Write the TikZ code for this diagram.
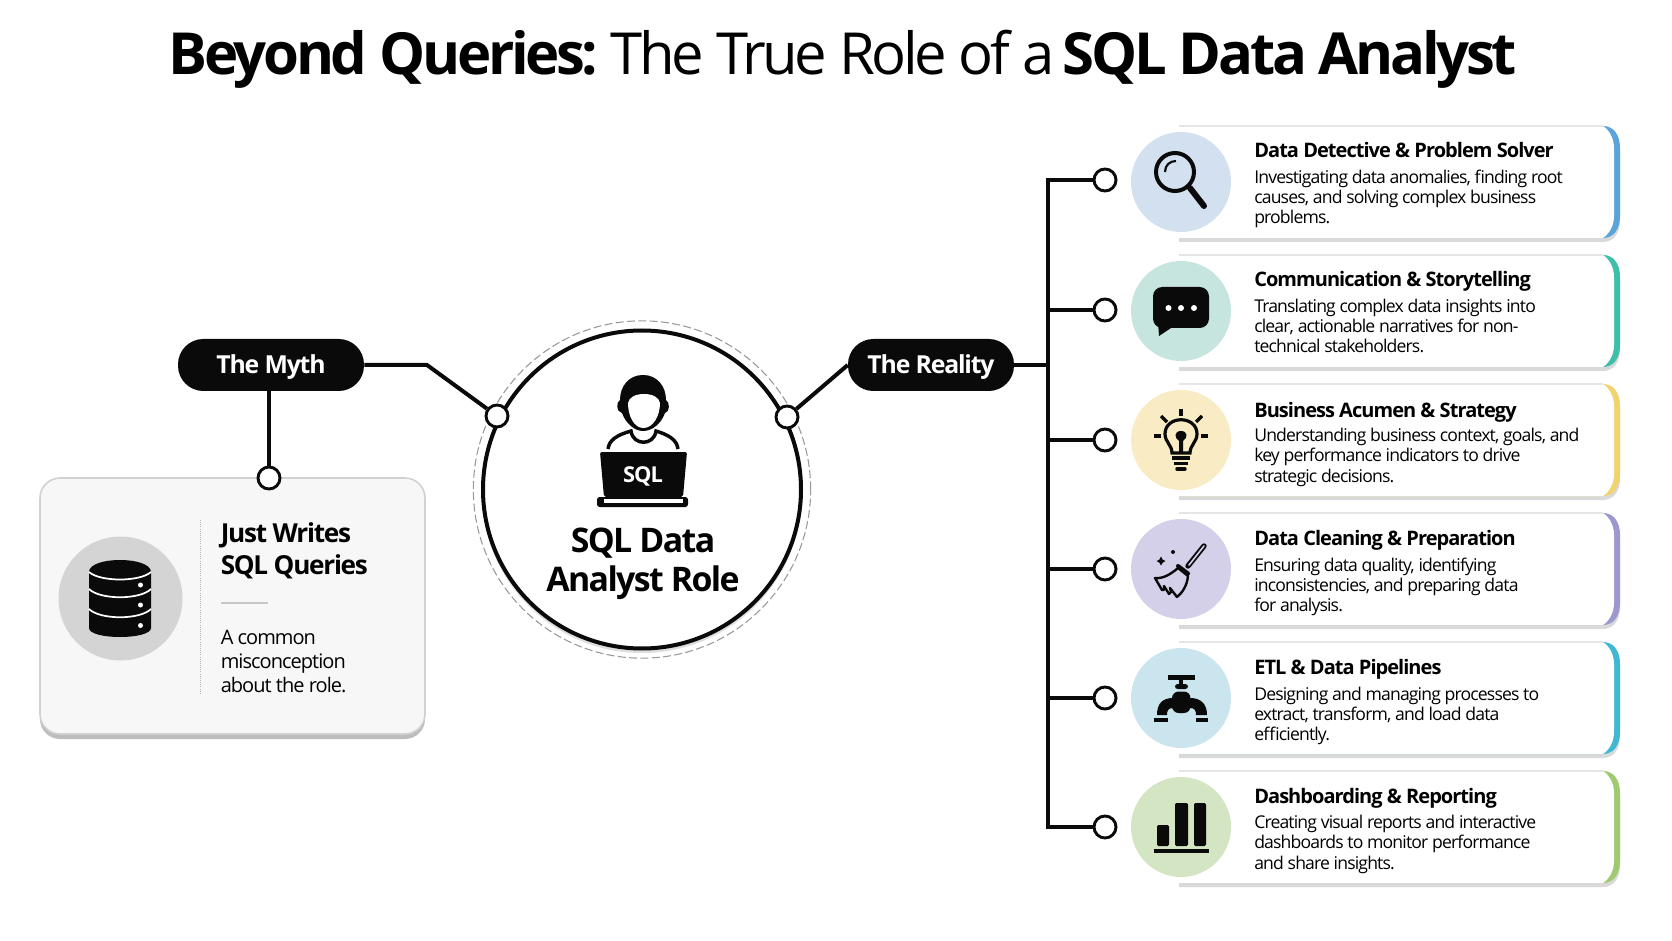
\documentclass[tikz,border=0pt]{standalone}
\usepackage{fontspec}
\setmainfont{Open Sans}
\newfontfamily\headfont[LetterSpace=-5.7]{Open Sans}
\newfontfamily\tightfont[LetterSpace=-4.8]{Open Sans}

\definecolor{inkblack}{HTML}{0A0A0A}
\definecolor{softblue}{HTML}{D3E0F0}
\definecolor{softteal}{HTML}{C7E5DF}
\definecolor{softyellow}{HTML}{F9EBC3}
\definecolor{softpurple}{HTML}{D5D0EA}
\definecolor{softcyan}{HTML}{CBE5EE}
\definecolor{softgreen}{HTML}{D3E5C2}
\definecolor{edgeblue}{HTML}{5BA4DB}
\definecolor{edgeteal}{HTML}{3DBFAA}
\definecolor{edgeyellow}{HTML}{F2D46F}
\definecolor{edgepurple}{HTML}{9C97CE}
\definecolor{edgecyan}{HTML}{3FB8D4}
\definecolor{edgegreen}{HTML}{A0CA72}

\tikzset{
  link/.style={draw=inkblack, line width=3pt},
  port/.style={draw=inkblack, circle, fill=white, line width=2.2pt, minimum size=16.5pt, inner sep=0pt},
  pill/.style={fill=inkblack, text=white, rounded corners=19pt, minimum height=39pt, inner sep=0pt, text height=13.5pt, text depth=0pt, font=\tightfont\bfseries\fontsize{18.6}{22}\selectfont},
  iconball/.style={circle, minimum size=75pt, inner sep=0pt},
  headline/.style={anchor=base west, inner sep=0pt, font=\tightfont\bfseries\fontsize{15}{18}\selectfont},
  bodytext/.style={anchor=north west, inner sep=0pt, align=left, execute at begin node=\rule{0pt}{10pt}, font=\tightfont\fontsize{13.2}{15.2}\selectfont},
  pics/cardpanel/.style={code={
    \fill[black!15] (0,4) -- (424,4) .. controls (434,4) and (441,12) .. (441,26) -- (441,94) .. controls (441,108) and (434,116) .. (424,116) -- (0,116) -- cycle;
    \fill[#1] (0,0) -- (424,0) .. controls (434,0) and (441,8) .. (441,22) -- (441,90) .. controls (441,104) and (434,112) .. (424,112) -- (0,112) -- cycle;
    \fill[white] (0,0) -- (424,0) .. controls (430,4) and (435,12) .. (435,22) -- (435,90) .. controls (435,100) and (430,108) .. (424,112) -- (0,112) -- cycle;
    \draw[black!10, line width=1pt] (0,0) -- (424,0);
  }}
}

\begin{document}
\begin{tikzpicture}[x=0.75pt, y=-0.75pt]
  \useasboundingbox (0,0) rectangle (1672,941);
  \fill[white] (0,0) rectangle (1672,941);

  % title
  \node[anchor=base, inner sep=0pt, font=\headfont\fontsize{43.5}{50}\selectfont] (title) at (841,75)
    {\textbf{Beyond Queries:} The True Role of a \textbf{SQL Data Analyst}};

  % centre
  \node[circle, draw=black!40, dash pattern=on 6pt off 2.5pt, line width=0.8pt, minimum size=253pt, inner sep=0pt] (halo) at (642,489.5) {};
  \node[circle, fill=black!13, minimum size=240pt, inner sep=0pt] (roleshade) at (642,493) {};
  \node[circle, draw=inkblack, fill=white, line width=3pt, minimum size=238.5pt, inner sep=0pt] (role) at (642,489.5) {};
  \node[anchor=base, inner sep=0pt, font=\tightfont\bfseries\fontsize{25.4}{29}\selectfont] (rolea) at (643,552) {SQL Data};
  \node[anchor=base, inner sep=0pt, font=\tightfont\bfseries\fontsize{25.4}{29}\selectfont] (roleb) at (643,591) {Analyst Role};

  % person at laptop
  \fill[inkblack] (643,375) .. controls (629,375) and (620,386) .. (620,400) .. controls (616,402) and (616,412) .. (622,413) .. controls (626,424) and (635,431) .. (643,431) .. controls (652,431) and (661,424) .. (665,413) .. controls (670,412) and (670,402) .. (666,400) .. controls (666,386) and (657,375) .. (643,375) -- cycle;
  \fill[white] (628,403) .. controls (629,397) and (636,394) .. (644,394) .. controls (652,394) and (659,397) .. (660,403) .. controls (660,416) and (653,428) .. (643.5,428) .. controls (634,428) and (628,416) .. (628,403) -- cycle;
  \draw[inkblack, line width=2.6pt] (608,449) .. controls (609,440) and (617,435) .. (631,431) .. controls (633,446) and (654,446) .. (656,431) .. controls (669,435) and (677,440) .. (678,449);
  \fill[inkblack, rounded corners=1.5pt] (600,452) -- (687,452) -- (683,497) -- (604,497) -- cycle;
  \fill[inkblack, rounded corners=2pt] (597,497) -- (688,497) -- (688,507) -- (597,507) -- cycle;
  \fill[white] (604,498.5) -- (683,498.5) -- (683,502.5) -- (604,502.5) -- cycle;
  \node[text=white, inner sep=0pt, font=\tightfont\bfseries\fontsize{16.4}{18}\selectfont] (sqltag) at (643,476) {SQL};

  % the myth
  \node[pill, minimum width=139.5pt] (myth) at (271,365) {The Myth};
  \node[fill=black!26, rounded corners=15pt, minimum width=288.75pt, minimum height=192pt] (mythshade) at (232.5,611) {};
  \node[draw=black!18, fill=black!3, line width=1.2pt, rounded corners=15pt, minimum width=288.75pt, minimum height=192pt] (mythcard) at (232.5,606) {};
  \node[port] (mythport) at (269,478) {};
  \node[port] (roleleft) at (497,416) {};
  \coordinate (mythbend) at (427,365);
  \draw[link] (myth) -- (mythbend) -- (roleleft);
  \draw[link] (myth.south -| mythport) -- (mythport);
  \node[circle, fill=black!17, minimum size=93pt, inner sep=0pt] (dbball) at (120.5,598.5) {};
  \draw[black!30, densely dotted, line width=0.6pt] (200,520) -- (200,693);
  \draw[black!22, line width=1pt] (221,603) -- (268,603);
  \node[headline, font=\tightfont\bfseries\fontsize{19.6}{24}\selectfont] (mythtitlea) at (220.5,542) {Just Writes};
  \node[headline, font=\tightfont\bfseries\fontsize{19.6}{24}\selectfont] (mythtitleb) at (220.5,574) {SQL Queries};
  \node[bodytext, font=\tightfont\fontsize{15}{18}\selectfont] (mythbody) at (220.5,629.7) {A common\\misconception\\about the role.};

  % database icon
  \fill[inkblack] (89,572) .. controls (89,556) and (151,556) .. (151,572) -- (151,628) .. controls (151,640) and (89,640) .. (89,628) -- cycle;
  \draw[white, line width=1.3pt] (89,572) .. controls (100,582) and (140,582) .. (151,572);
  \draw[white, line width=1.3pt] (89,589) .. controls (100,600) and (140,600) .. (151,589);
  \draw[white, line width=1.3pt] (89,609) .. controls (100,620) and (140,620) .. (151,609);
  \fill[white] (140.5,585) circle (2.5);
  \fill[white] (140.5,605) circle (2.5);
  \fill[white] (140.5,625.5) circle (2.5);

  % the reality
  \node[pill, minimum width=124.5pt] (reality) at (931,365) {The Reality};
  \node[port] (roleright) at (787,417) {};
  \draw[link] (roleright) -- (reality.west);
  \coordinate (trunktop) at (1047.5,180);
  \coordinate (trunkbot) at (1047.5,827);
  \coordinate (trunkmid) at (1047.5,365);
  \draw[link] (reality) -- (trunkmid);

  % cards
  \pic at (1179,126) {cardpanel=edgeblue};
  \pic at (1179,255) {cardpanel=edgeteal};
  \pic at (1179,384) {cardpanel=edgeyellow};
  \pic at (1179,513) {cardpanel=edgepurple};
  \pic at (1179,642) {cardpanel=edgecyan};
  \pic at (1179,771) {cardpanel=edgegreen};

  \node[port] (porta) at (1105,180) {};
  \node[port] (portb) at (1105,310) {};
  \node[port] (portc) at (1105,440) {};
  \node[port] (portd) at (1105,569) {};
  \node[port] (porte) at (1105,698) {};
  \node[port] (portf) at (1105,827) {};
  \draw[link] (porta) -- (trunktop) -- (trunkbot) -- (portf);
  \draw[link] (portb) -- (portb -| trunkmid);
  \draw[link] (portc) -- (portc -| trunkmid);
  \draw[link] (portd) -- (portd -| trunkmid);
  \draw[link] (porte) -- (porte -| trunkmid);

  \node[iconball, fill=softblue] (balla) at (1181,182) {};
  \node[iconball, fill=softteal] (ballb) at (1181,311) {};
  \node[iconball, fill=softyellow] (ballc) at (1181,440) {};
  \node[iconball, fill=softpurple] (balld) at (1181,569) {};
  \node[iconball, fill=softcyan] (balle) at (1181,698) {};
  \node[iconball, fill=softgreen] (ballf) at (1181,827) {};

  \node[headline] (titlea) at (1254,158) {Data Detective \& Problem Solver};
  \node[bodytext] (bodya) at (1254,169.5) {Investigating data anomalies, finding root\\causes, and solving complex business\\problems.};
  \node[headline] (titleb) at (1254,287) {Communication \& Storytelling};
  \node[bodytext] (bodyb) at (1254,298.5) {Translating complex data insights into\\clear, actionable narratives for non-\\technical stakeholders.};
  \node[headline] (titlec) at (1254,417) {Business Acumen \& Strategy};
  \node[bodytext] (bodyc) at (1254,428) {Understanding business context, goals, and\\key performance indicators to drive\\strategic decisions.};
  \node[headline] (titled) at (1254,545) {Data Cleaning \& Preparation};
  \node[bodytext] (bodyd) at (1254,557.5) {Ensuring data quality, identifying\\inconsistencies, and preparing data\\for analysis.};
  \node[headline] (titlee) at (1254,674.5) {ETL \& Data Pipelines};
  \node[bodytext] (bodye) at (1254,686.5) {Designing and managing processes to\\extract, transform, and load data\\efficiently.};
  \node[headline] (titlef) at (1254,803) {Dashboarding \& Reporting};
  \node[bodytext] (bodyf) at (1254,815) {Creating visual reports and interactive\\dashboards to monitor performance\\and share insights.};

  % magnifier
  \draw[inkblack, line width=3pt] (1175,172) circle (19);
  \draw[inkblack, line width=1.6pt] (1165,172) .. controls (1165,165) and (1170,161) .. (1176,161);
  \draw[inkblack, line width=4.5pt, line cap=round] (1190,188) -- (1204,206);

  % speech bubble
  \fill[inkblack, rounded corners=7pt] (1153,287) -- (1209,287) -- (1209,328) -- (1153,328) -- cycle;
  \fill[inkblack] (1158,322) -- (1159,336) -- (1174,326) -- cycle;
  \fill[white] (1168.5,308) circle (3);
  \fill[white] (1181,308) circle (3);
  \fill[white] (1194,308) circle (3);

  % bulb
  \draw[inkblack, line width=2.4pt] (1172,453) .. controls (1172,445) and (1165,442) .. (1165,434) .. controls (1165,415) and (1197,415) .. (1197,434) .. controls (1197,442) and (1190,445) .. (1190,453) -- cycle;
  \fill[inkblack] (1181,431) .. controls (1188,431) and (1188,438) .. (1183,441) -- (1183,453) -- (1179,453) -- (1179,441) .. controls (1174,438) and (1174,431) .. (1181,431) -- cycle;
  \draw[inkblack, line width=2.6pt] (1172,458) -- (1190,458);
  \draw[inkblack, line width=2.6pt] (1174,463.5) -- (1188,463.5);
  \draw[inkblack, line width=2.6pt, line cap=round] (1177,469) -- (1185,469);
  \draw[inkblack, line width=2.4pt] (1181,409) -- (1181,416);
  \draw[inkblack, line width=2.4pt] (1154,436) -- (1161,436);
  \draw[inkblack, line width=2.4pt] (1201,436) -- (1208,436);
  \draw[inkblack, line width=2.4pt] (1161,416) -- (1167,422);
  \draw[inkblack, line width=2.4pt] (1202,416) -- (1196,422);

  % broom
  \draw[inkblack, line width=4pt, line cap=round] (1204,546) -- (1188,566);
  \draw[softpurple, line width=1.2pt, line cap=round] (1204,546) -- (1189,565);
  \draw[inkblack, fill=softpurple, line width=1.8pt, line join=round] (1155,578) .. controls (1163,579) and (1171,574) .. (1178,568) -- (1188,576) .. controls (1187,586) and (1182,593) .. (1177,597) -- (1170,588) -- (1171,592) -- (1169,594) -- (1164,586) -- (1164,590) -- (1162,590) -- cycle;
  \draw[inkblack, line width=3pt, line cap=round] (1178,566) -- (1188,573.5);
  \fill[inkblack] (1161,556.5) .. controls (1162,559.5) and (1163,560.5) .. (1165.5,561) .. controls (1163,562) and (1162,563) .. (1161,565.5) .. controls (1160,563) and (1159,562) .. (1156.5,561) .. controls (1159,560.5) and (1160,559.5) .. (1161,556.5) -- cycle;
  \fill[inkblack] (1173,552) circle (2);

  % valve
  \fill[inkblack] (1168,675) -- (1195,675) -- (1195,680) -- (1168,680) -- cycle;
  \fill[inkblack] (1179,680) -- (1183,680) -- (1183,686) -- (1179,686) -- cycle;
  \fill[inkblack, rounded corners=2pt] (1175,684) -- (1188,684) -- (1188,689) -- (1175,689) -- cycle;
  \fill[inkblack, rounded corners=5pt] (1172,691.5) -- (1190.5,691.5) -- (1190.5,713) -- (1172,713) -- cycle;
  \fill[inkblack] (1173,698) .. controls (1162,698) and (1157,704) .. (1157,715) -- (1167,715) .. controls (1167,711) and (1168,708) .. (1173,708) -- cycle;
  \fill[inkblack] (1190,698) .. controls (1201,698) and (1207,704) .. (1207,715) -- (1196,715) .. controls (1196,711) and (1195,708) .. (1190,708) -- cycle;
  \fill[inkblack] (1154,717.5) -- (1168,717.5) -- (1168,722) -- (1154,722) -- cycle;
  \fill[inkblack] (1196,717.5) -- (1208,717.5) -- (1208,722) -- (1196,722) -- cycle;

  % bars
  \fill[inkblack, rounded corners=1pt] (1157,825) -- (1169,825) -- (1169,846) -- (1157,846) -- cycle;
  \fill[inkblack, rounded corners=1pt] (1175,803) -- (1188,803) -- (1188,846) -- (1175,846) -- cycle;
  \fill[inkblack, rounded corners=1pt] (1194,803) -- (1206,803) -- (1206,846) -- (1194,846) -- cycle;
  \fill[inkblack] (1154,849) -- (1209,849) -- (1209,853) -- (1154,853) -- cycle;
\end{tikzpicture}
\end{document}
